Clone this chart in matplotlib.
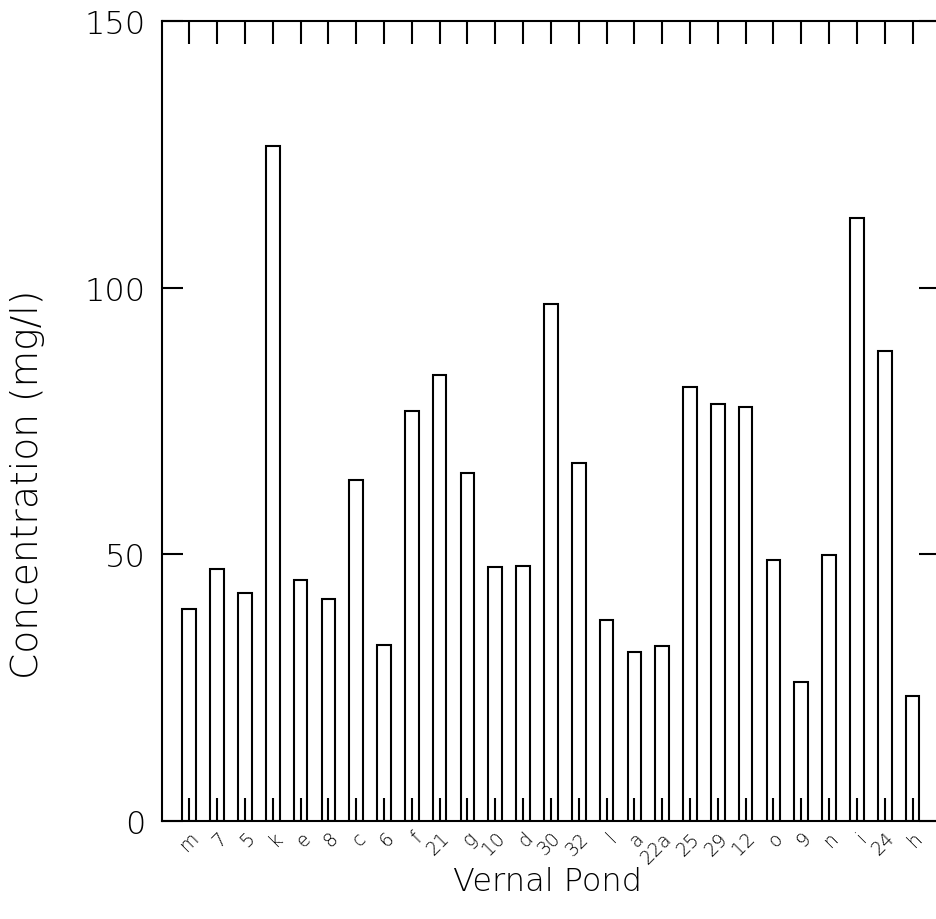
import matplotlib
matplotlib.use('Agg')
import matplotlib.pyplot as plt
import numpy as np

ponds = ['m', '7', '5', 'k', 'e', '8', 'c', '6', 'f', '21', 'g', '10', 'd', '30',
         '32', 'l', 'a', '22a', '25', '29', '12', 'o', '9', 'n', 'i', '24', 'h']
conc = [39.7, 47.2, 42.7, 126.5, 45.2, 41.6, 64.0, 33.0, 76.9, 83.7, 65.2, 47.7,
        47.9, 97.0, 67.2, 37.6, 31.6, 32.9, 81.3, 78.2, 77.7, 49.0, 26.0, 49.9,
        113.1, 88.2, 23.5]
yticks = [0, 50, 100, 150]

plt.rcParams['font.family'] = ['DejaVu Sans']
plt.rcParams['font.weight'] = 'light'
plt.rcParams['axes.labelweight'] = 'light'

fig = plt.figure(figsize=(9.36, 9.2), dpi=100)
L = 162 / 936
B = 98 / 920
W = (939.8 - 162) / 936
H = 800 / 920
ax = fig.add_axes([L, B, W, H])

x = np.arange(len(ponds))
ax.bar(x, conc, width=0.49, facecolor='white', edgecolor='black', linewidth=1.5)

ax.set_xlim(-0.98, len(ponds) - 1 + 0.98)
ax.set_ylim(0, 150)
ax.set_yticks(yticks)
ax.set_xticks(x)
ax.set_xticklabels(ponds, rotation=45, ha='right', va='top',
                   rotation_mode='anchor', fontsize=13.5, color='black')
ax.tick_params(axis='x', direction='in', top=True, bottom=True,
               length=16.5, width=1.5, pad=5)
ax.tick_params(axis='y', direction='in', left=True, right=True,
               length=15, width=1.5, pad=12, labelsize=23, labelcolor='black')
for s in ax.spines.values():
    s.set_linewidth(1.5)

ax.set_ylabel('Concentration (mg/l)', fontsize=27, fontweight='light')
ax.set_xlabel('Vernal Pond', fontsize=23, fontweight='light')
ax.yaxis.set_label_coords(-0.150, 0.4225)
ax.xaxis.set_label_coords(0.496, -0.056)

fig.savefig('out.png', dpi=100)
